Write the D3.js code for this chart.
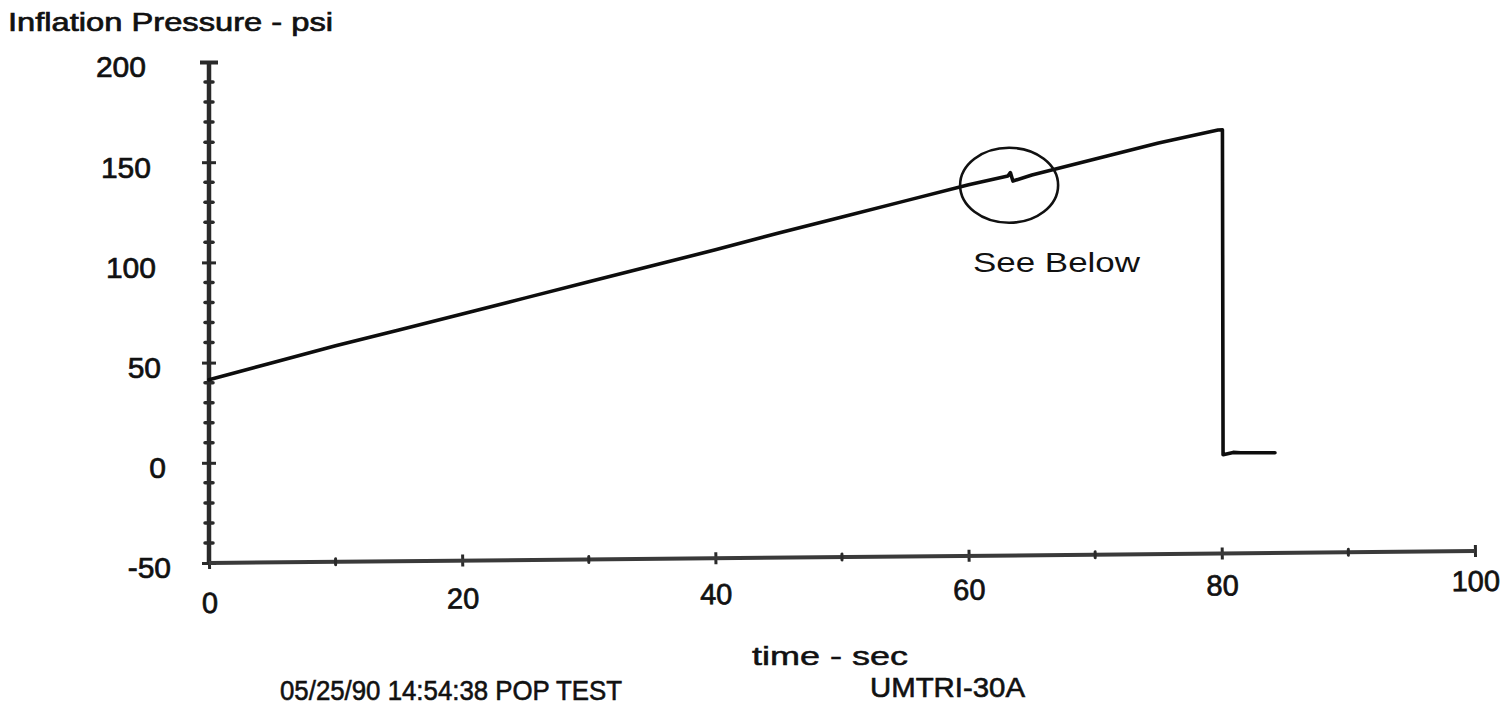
<!DOCTYPE html>
<html>
<head>
<meta charset="utf-8">
<script src="https://cdn.jsdelivr.net/npm/d3@7/dist/d3.min.js"></script>
<style>
  html, body { margin: 0; padding: 0; background: #fff; }
  svg { display: block; }
  text { font-family: "Liberation Sans", Arial, Helvetica, sans-serif; fill: #111; }
</style>
</head>
<body>
<svg id="chart" width="1504" height="707"></svg>
<script>
// ---- data ----
const times    = [0, 5, 10, 15, 20, 25, 30, 35, 40, 45, 50, 55, 60, 63.1, 63.3, 63.5, 65, 70, 75, 79.7, 80.05, 80.1, 80.9, 81.5, 84.2];
const pressure = [41.4, 49.9, 58.4, 66.3, 74.3, 82.3, 90.3, 98.3, 106.3, 114.7, 122.7, 130.7, 138.7, 143.1, 144.8, 140.6, 143.6, 151.6, 159.6, 166.1, 166.2, 4.0, 5.2, 5.0, 5.0];
const xTickValues = [0, 20, 40, 60, 80, 100];
const xMinorValues = [10, 30, 50, 70, 90];
const yTickValues = [-50, 0, 50, 100, 150, 200];
const yMinorValues = [-40, -30, -20, -10, 10, 20, 30, 40, 60, 70, 80, 90, 110, 120, 130, 140, 160, 170, 180, 190];
const titleText = "Inflation Pressure - psi";
const xTitleText = "time - sec";
const footLeft = "05/25/90 14:54:38 POP TEST";
const footRight = "UMTRI-30A";
const noteText = "See Below";
const noteTime = 63.2, notePressure = 138.5;

const svg = d3.select("#chart");
const x = d3.scaleLinear().domain([0, 100]).range([209, 1475]);
const y = d3.scaleLinear().domain([-50, 200]).range([563, 62]);

const axisColor = "#2a2a2a";
const fmt = d => String(d);

// ---- Y axis ----
const yAxis = svg.append("g").attr("transform", `translate(${x(0)},0)`)
  .call(d3.axisLeft(y).tickValues(yTickValues).tickFormat(fmt).tickSize(0).tickPadding(0));
yAxis.select(".domain").remove();
yAxis.append("line")
  .attr("x1", 0).attr("x2", 0).attr("y1", y(200)).attr("y2", y(-50))
  .attr("stroke", axisColor).attr("stroke-width", 4.5);
yAxis.selectAll(".tick line")
  .attr("x1", d => d === 200 ? -9 : -7).attr("x2", d => d === 200 ? 9 : 7)
  .attr("stroke", axisColor).attr("stroke-width", d => d === 200 ? 4 : 3);
yAxis.selectAll(".tick text")
  .attr("x", d => (146 + (200 - d) * 0.1) - x(0))
  .attr("y", 4)
  .attr("dy", "0.36em")
  .attr("text-anchor", "end")
  .style("font-size", "30px")
  .style("fill", "#111")
  .attr("stroke", "#111").attr("stroke-width", 0.7);
yAxis.selectAll(".minor").data(yMinorValues).enter().append("line")
  .attr("class", "minor")
  .attr("x1", -4).attr("x2", 4)
  .attr("y1", d => y(d)).attr("y2", d => y(d))
  .attr("stroke", axisColor).attr("stroke-width", 3.5).attr("stroke-linecap", "round");

// ---- X axis (slightly tilted like the scan) ----
const xAxis = svg.append("g")
  .attr("transform", `translate(0,${y(-50)}) rotate(-0.54 ${x(0)} 0)`)
  .call(d3.axisBottom(x).tickValues(xTickValues).tickFormat(fmt).tickSize(0).tickPadding(0));
xAxis.select(".domain").remove();
xAxis.append("line")
  .attr("x1", x(0)).attr("x2", x(100)).attr("y1", 0).attr("y2", 0)
  .attr("stroke", "#3a3a3a").attr("stroke-width", 4);
xAxis.selectAll(".tick line")
  .attr("y1", -6).attr("y2", 6)
  .attr("stroke", axisColor).attr("stroke-width", 3);
xAxis.selectAll(".tick text")
  .attr("y", d => 50 - d * 0.1)
  .attr("dy", "0")
  .style("font-size", "29px")
  .style("fill", "#111")
  .attr("stroke", "#111").attr("stroke-width", 0.7);
xAxis.selectAll(".minor").data(xMinorValues).enter().append("line")
  .attr("class", "minor")
  .attr("x1", d => x(d)).attr("x2", d => x(d))
  .attr("y1", -3).attr("y2", 3)
  .attr("stroke", axisColor).attr("stroke-width", 3).attr("stroke-linecap", "round");

// ---- data line ----
const pts = times.map((t, i) => [t, pressure[i]]);
svg.append("path")
  .datum(pts)
  .attr("fill", "none")
  .attr("stroke", "#0d0d0d")
  .attr("stroke-width", 3.6)
  .attr("stroke-linejoin", "round")
  .attr("stroke-linecap", "round")
  .attr("d", d3.line().x(d => x(d[0])).y(d => y(d[1])));

// ---- annotation ----
svg.append("ellipse")
  .attr("cx", x(noteTime)).attr("cy", y(notePressure))
  .attr("rx", 49).attr("ry", 37.5)
  .attr("fill", "none").attr("stroke", "#111").attr("stroke-width", 2.6);
svg.append("text")
  .attr("x", 973).attr("y", 272)
  .attr("textLength", 167).attr("lengthAdjust", "spacingAndGlyphs")
  .style("font-size", "28px")
  .text(noteText);

// ---- titles ----
svg.append("text")
  .attr("x", 8).attr("y", 31)
  .attr("textLength", 325).attr("lengthAdjust", "spacingAndGlyphs")
  .style("font-size", "26px")
  .attr("stroke", "#111").attr("stroke-width", 0.7)
  .text(titleText);
svg.append("text")
  .attr("x", 752).attr("y", 665)
  .attr("textLength", 156).attr("lengthAdjust", "spacingAndGlyphs")
  .style("font-size", "25px")
  .attr("stroke", "#111").attr("stroke-width", 0.5)
  .text(xTitleText);
svg.append("text")
  .attr("x", 280).attr("y", 700)
  .attr("textLength", 342).attr("lengthAdjust", "spacingAndGlyphs")
  .style("font-size", "28px")
  .attr("stroke", "#111").attr("stroke-width", 0.6)
  .text(footLeft);
svg.append("text")
  .attr("x", 870).attr("y", 697)
  .attr("textLength", 155).attr("lengthAdjust", "spacingAndGlyphs")
  .style("font-size", "28px")
  .attr("stroke", "#111").attr("stroke-width", 0.6)
  .text(footRight);
</script>
</body>
</html>
